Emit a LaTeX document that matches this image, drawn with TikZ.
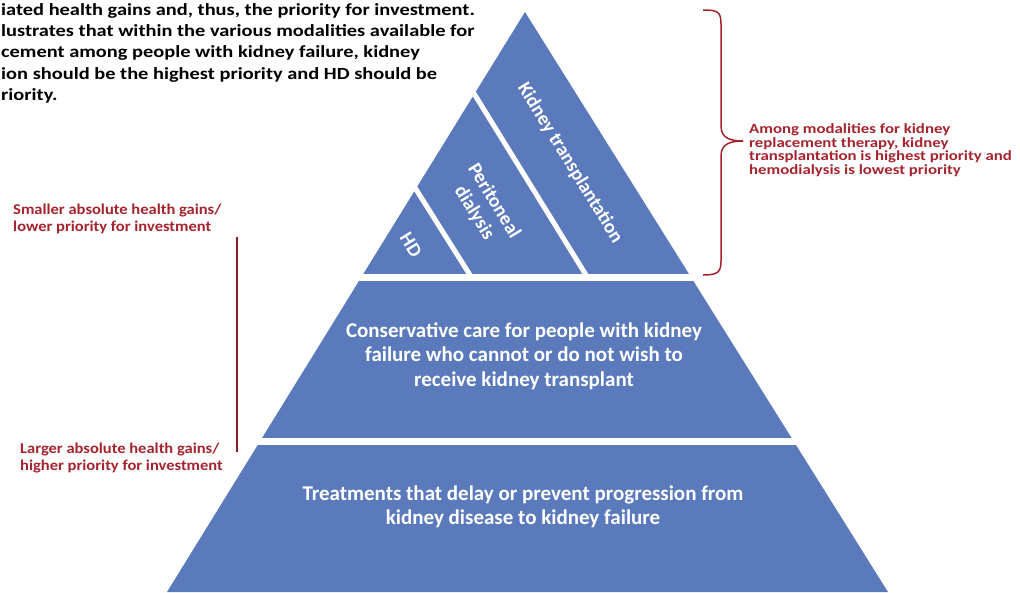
\documentclass[tikz,border=0pt]{standalone}
\usepackage{fontspec}
\setmainfont{Carlito}
\newfontfamily\widefont[FakeStretch=1.2]{Carlito}
\newfontfamily\semiwidefont[FakeStretch=1.1]{Carlito}
\usetikzlibrary{positioning}
\definecolor{pyrblue}{RGB}{90,122,188}
\definecolor{notered}{RGB}{165,35,45}

\begin{document}
\begin{tikzpicture}[x=1pt,y=-1pt,
		level/.style={text=white,font=\bfseries\fontsize{21}{24.5}\selectfont,align=center},
		modality/.style={text=white,font=\bfseries\fontsize{19.5}{23}\selectfont,align=center,rotate=-58.5},
		gap/.style={white,line width=7pt},
		slit/.style={white,line width=5pt},
		note/.style={text=notered,align=left,inner sep=0pt}]
				\useasboundingbox (0,0) rectangle (1020,592);
				% pyramid
				\coordinate (apex) at (525,12);
				\coordinate (bl) at (167,592);
				\coordinate (br) at (888,592);
				\fill[pyrblue] (apex) -- (bl) -- (br) -- cycle;
				\draw[gap] (352,277) -- (698,277);
				\draw[gap] (252,441) -- (800,441);
				\draw[slit] (470,87) -- (586,275);
				\draw[slit] (412,183) -- (470,275);
				\node[modality] (kt) at (570,163) {Kidney transplantation};
				\node[modality] (pd) at (484,207) {Peritoneal\\dialysis};
				\node[modality] (hd) at (411,245) {HD};
				\node[level] (cc) at (524,356) {Conservative care for people with kidney\\failure who cannot or do not wish to\\receive kidney transplant};
				\node[level] (tr) at (523,507) {Treatments that delay or prevent progression from\\kidney disease to kidney failure};
				% text above
				\node[anchor=north west,inner sep=0pt,align=left,font=\widefont\bfseries\fontsize{17}{21.3}\selectfont] (intro) at (1,3)
					{iated health gains and, thus, the priority for investment.\\
					lustrates that within the various modalities available for\\
					cement among people with kidney failure, kidney\\
					ion should be the highest priority and HD should be\\
					riority.};
				% notes
				\node[note,anchor=west,font=\widefont\bfseries\fontsize{14}{13.5}\selectfont] (rrt) at (749,150)
					{Among modalities for kidney\\replacement therapy, kidney\\transplantation is highest priority and\\hemodialysis is lowest priority};
				\node[note,anchor=west,font=\semiwidefont\bfseries\fontsize{15}{17.5}\selectfont] (small) at (13,219)
					{Smaller absolute health gains/\\lower priority for investment};
				\node[note,anchor=west,font=\semiwidefont\bfseries\fontsize{15}{17.5}\selectfont] (large) at (20,458)
					{Larger absolute health gains/\\higher priority for investment};
				\coordinate (gainlo) at (237,237);
				\coordinate (gainhi) at (237,452);
				\draw[notered!85!black,line width=2pt] (gainlo) -- (gainhi);
				% brace
				\coordinate (btop) at (703,10);
				\coordinate (btip) at (743,141);
				\coordinate (bbot) at (703,275);
				\draw[notered,line width=1.5pt] (btop) .. controls (718,10) and (721,12) .. (721,24) -- (721,126)
					.. controls (721,138) and (730,141) .. (btip)
					.. controls (730,141) and (721,144) .. (721,156) -- (721,261)
					.. controls (721,272) and (718,275) .. (bbot);
			\end{tikzpicture}
\end{document}
